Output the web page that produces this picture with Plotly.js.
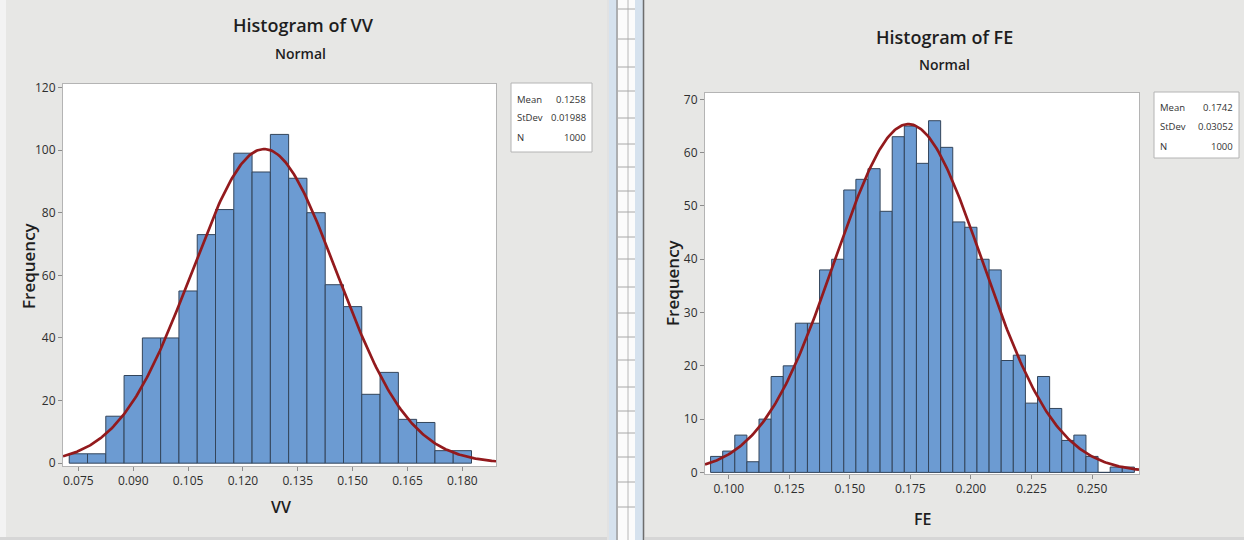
<!DOCTYPE html>
<html>
<head>
<meta charset="utf-8">
<script src="https://cdn.plot.ly/plotly-3.0.1.min.js"></script>
<style>html,body{margin:0;padding:0;background:#fff;}#chart{width:1244px;height:540px;}</style>
</head>
<body>
<div id="chart"></div>
<script>
// ---------- data ----------
const binWidth = 0.005;

// VV histogram: bin centres and frequencies
const vvCenters = [0.075,0.080,0.085,0.090,0.095,0.100,0.105,0.110,0.115,0.120,0.125,
                   0.130,0.135,0.140,0.145,0.150,0.155,0.160,0.165,0.170,0.175,0.180];
const vvCounts  = [3,3,15,28,40,40,55,73,81,99,93,105,91,80,57,50,22,29,14,13,4,4];
const vvMean = 0.1258, vvStDev = 0.01988, vvN = 1000;
const vvStatValues = ["0.1258","0.01988","1000"];
const vvTickVals = [0.075,0.090,0.105,0.120,0.135,0.150,0.165,0.180];
const vvTickText = ["0.075","0.090","0.105","0.120","0.135","0.150","0.165","0.180"];
const vvYTicks = [0,20,40,60,80,100,120];

// FE histogram
const feCenters = [0.095,0.100,0.105,0.110,0.115,0.120,0.125,0.130,0.135,0.140,0.145,0.150,
                   0.155,0.160,0.165,0.170,0.175,0.180,0.185,0.190,0.195,0.200,0.205,0.210,
                   0.215,0.220,0.225,0.230,0.235,0.240,0.245,0.250,0.255,0.260,0.265];
const feCounts  = [3,4,7,2,10,18,20,28,28,38,40,53,55,57,49,63,65,58,66,61,47,46,40,38,
                   21,22,13,18,12,6,7,3,0,1,1];
const feMean = 0.1742, feStDev = 0.03052, feN = 1000;
const feStatValues = ["0.1742","0.03052","1000"];
const feTickVals = [0.100,0.125,0.150,0.175,0.200,0.225,0.250];
const feTickText = ["0.100","0.125","0.150","0.175","0.200","0.225","0.250"];
const feYTicks = [0,10,20,30,40,50,60,70];

const statLabels = ["Mean","StDev","N"];
const titles = ["Histogram of VV","Histogram of FE"];
const subtitle = "Normal";
const xTitles = ["VV","FE"];
const yTitle = "Frequency";

// ---------- helpers ----------
const W = 1244, H = 540;
const px = x => x / W;
const py = y => 1 - y / H;

const vvRange = [0.0708, 0.1892];
const feRange = [0.0902, 0.2694];

// fitted normal curve from the displayed Mean / StDev / N
function normalFit(mean, sd, n, range) {
  const xs = [], ys = [];
  const steps = 300;
  for (let i = 0; i <= steps; i++) {
    const x = range[0] + (range[1] - range[0]) * i / steps;
    const z = (x - mean) / sd;
    xs.push(x);
    ys.push(n * binWidth * Math.exp(-0.5 * z * z) / (sd * Math.sqrt(2 * Math.PI)));
  }
  return {xs, ys};
}
const vvFit = normalFit(vvMean, vvStDev, vvN, vvRange);
const feFit = normalFit(feMean, feStDev, feN, feRange);

const FONT = "'Open Sans','Noto Sans',sans-serif";
const TFONT = "'Open Sans','Noto Sans',sans-serif";
const barFill = "#6c9bd2", barLine = "#33455b", curveCol = "#931a1d";

const traces = [
  {type:"bar", x:vvCenters, y:vvCounts, width:binWidth, xaxis:"x", yaxis:"y",
   marker:{color:barFill, line:{color:barLine, width:1}}, hoverinfo:"x+y"},
  {type:"scatter", mode:"lines", x:vvFit.xs, y:vvFit.ys, xaxis:"x", yaxis:"y",
   line:{color:curveCol, width:2.7}, hoverinfo:"skip"},
  {type:"bar", x:feCenters, y:feCounts, width:binWidth, xaxis:"x2", yaxis:"y2",
   marker:{color:barFill, line:{color:barLine, width:1}}, hoverinfo:"x+y"},
  {type:"scatter", mode:"lines", x:feFit.xs, y:feFit.ys, xaxis:"x2", yaxis:"y2",
   line:{color:curveCol, width:2.7}, hoverinfo:"skip"}
];

const axBase = {
  showgrid:false, zeroline:false, showline:true, mirror:true, linecolor:"#b4b4b4", linewidth:1,
  ticks:"outside", ticklen:4, tickcolor:"#8c8c8c", tickwidth:1,
  tickfont:{family:FONT, size:12, color:"#2e2e2e"}, fixedrange:true
};

const layout = {
  width:W, height:H, margin:{l:0,r:0,t:0,b:0},
  paper_bgcolor:"#e7e7e5", plot_bgcolor:"#ffffff", showlegend:false, bargap:0,
  xaxis:Object.assign({}, axBase, {domain:[px(63),px(496)], range:vvRange, anchor:"y",
        tickmode:"array", tickvals:vvTickVals, ticktext:vvTickText}),
  yaxis:Object.assign({}, axBase, {domain:[py(466),py(84)], range:[-0.9,121.1], anchor:"x",
        tickmode:"array", tickvals:vvYTicks}),
  xaxis2:Object.assign({}, axBase, {domain:[px(705),px(1139)], range:feRange, anchor:"y2",
        tickmode:"array", tickvals:feTickVals, ticktext:feTickText}),
  yaxis2:Object.assign({}, axBase, {domain:[py(474),py(93)], range:[-0.3,71.2], anchor:"x2",
        tickmode:"array", tickvals:feYTicks}),
  shapes:[], annotations:[]
};

// window / separator decoration
const S = layout.shapes;
function rect(x0,y0,x1,y1,fill,line){S.push({type:"rect",xref:"paper",yref:"paper",
  x0:px(x0),x1:px(x1),y0:py(y1),y1:py(y0),fillcolor:fill,line:{width:line?1:0,color:line||fill},layer:"above"});}
function seg(x0,y0,x1,y1,col,w){S.push({type:"line",xref:"paper",yref:"paper",
  x0:px(x0),x1:px(x1),y0:py(y0),y1:py(y1),line:{color:col,width:w||1},layer:"above"});}
rect(0,0,6,540,"#f3f3f3");
rect(0,537,1244,540,"#d6d6d6");
rect(607,0,645,540,"#e2e2e2");
rect(609,0,617,540,"#d6e2ee");
rect(618,0,635,540,"#fbfbfb");
rect(635,0,643,540,"#d6e2ee");
seg(617,0,617,540,"#8d8d8d",1.2);
seg(628,0,628,540,"#b8b8b8",1);
seg(643.5,0,643.5,540,"#6d6d6d",1.5);
const sepRows = [9,39,67,91,118,144,167,191,212,237,259,287,313,337,360,387,411,433,457,482,507];
sepRows.forEach(y => seg(618,y,635,y,"#a8a8a8",1));

// stats boxes
function statBox(x0,y0,x1,y1,rows,vals){
  rect(x0,y0,x1,y1,"#ffffff","#b4b4b4");
  statLabels.forEach((lab,i)=>{
    layout.annotations.push({xref:"paper",yref:"paper",x:px(x0+4),y:py(rows[i]),text:lab,showarrow:false,
      xanchor:"left",yanchor:"middle",font:{family:FONT,size:9.5,color:"#333333"}});
    layout.annotations.push({xref:"paper",yref:"paper",x:px(x1-4),y:py(rows[i]),text:vals[i],showarrow:false,
      xanchor:"right",yanchor:"middle",font:{family:FONT,size:9.5,color:"#333333"}});
  });
}
statBox(511,83,592,152,[99,117,137],vvStatValues);
statBox(1154,92,1239,158,[108,127,147],feStatValues);

// titles and axis titles
function txt(x,y,t,size,opts){layout.annotations.push(Object.assign({xref:"paper",yref:"paper",
  x:px(x),y:py(y),text:t,showarrow:false,xanchor:"center",yanchor:"middle",
  font:{family:TFONT,size:size,color:"#1e1e1e",weight:600}},opts||{}));}
txt(303,25,titles[0],18);
txt(300,54,subtitle,14);
txt(944,37,titles[1],18);
txt(944,65,subtitle,14);
txt(281,507,xTitles[0],16);
txt(922,519,xTitles[1],16);
txt(28,266,yTitle,17,{textangle:-90});
txt(672,283,yTitle,17,{textangle:-90});

Plotly.newPlot("chart", traces, layout, {displayModeBar:false, staticPlot:true});
</script>
</body>
</html>
